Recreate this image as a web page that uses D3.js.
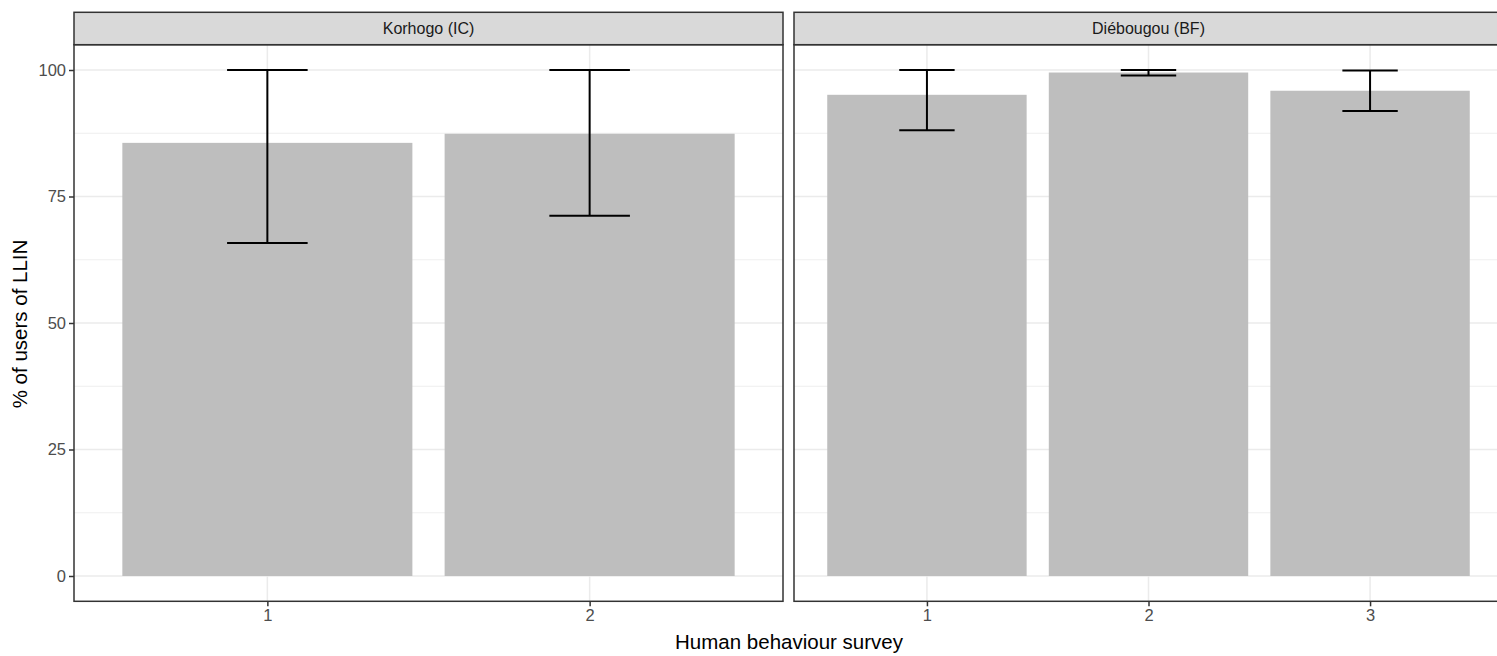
<!DOCTYPE html>
<html>
<head>
<meta charset="utf-8">
<script src="https://cdn.jsdelivr.net/npm/d3@7"></script>
<style>
  body { margin: 0; background: #fff; }
  svg { display: block; font-family: "Liberation Sans", Arial, sans-serif; }
</style>
</head>
<body>
<svg id="chart" width="1497" height="656"></svg>
<script>
// ---- data ----
const panelNames = ["Korhogo (IC)", "Diébougou (BF)"];
const korhogoSurveys = ["1", "2"];
const korhogoValues = [85.6, 87.4];
const korhogoLower = [65.8, 71.2];
const korhogoUpper = [100, 100];
const diebougouSurveys = ["1", "2", "3"];
const diebougouValues = [95.1, 99.5, 95.9];
const diebougouLower = [88.1, 98.9, 91.9];
const diebougouUpper = [100, 100, 99.9];
const yTicks = [0, 25, 50, 75, 100];
const yMinorTicks = [12.5, 37.5, 62.5, 87.5];
const xTitle = "Human behaviour survey";
const yTitle = "% of users of LLIN";

const panelsData = [
  { name: panelNames[0], surveys: korhogoSurveys, values: korhogoValues, lower: korhogoLower, upper: korhogoUpper },
  { name: panelNames[1], surveys: diebougouSurveys, values: diebougouValues, lower: diebougouLower, upper: diebougouUpper }
];

// ---- layout ----
const svg = d3.select("#chart");
const panelTop = 44.7, panelBottom = 601.3;
const stripTop = 12.3;
const panelW = 709;
const panelLefts = [74, 794];
const font = "Liberation Sans, Arial, sans-serif";

const y = d3.scaleLinear().domain([-5, 105]).range([panelBottom, panelTop]);

const border = "#333333", grid = "#EBEBEB";

panelsData.forEach((p, i) => {
  const x0 = panelLefts[i];
  const x = d3.scalePoint().domain(p.surveys).range([x0, x0 + panelW]).padding(0.6);
  const step = x.step();
  const g = svg.append("g");

  g.append("rect").attr("x", x0).attr("y", panelTop).attr("width", panelW)
    .attr("height", panelBottom - panelTop).attr("fill", "#fff");

  // minor grid
  g.selectAll(".ymin").data(yMinorTicks).join("line")
    .attr("x1", x0).attr("x2", x0 + panelW)
    .attr("y1", d => y(d)).attr("y2", d => y(d))
    .attr("stroke", grid).attr("stroke-width", 0.8);
  // major grid
  g.selectAll(".ymaj").data(yTicks).join("line")
    .attr("x1", x0).attr("x2", x0 + panelW)
    .attr("y1", d => y(d)).attr("y2", d => y(d))
    .attr("stroke", grid).attr("stroke-width", 1.5);
  g.selectAll(".xmaj").data(p.surveys).join("line")
    .attr("x1", d => x(d)).attr("x2", d => x(d))
    .attr("y1", panelTop).attr("y2", panelBottom)
    .attr("stroke", grid).attr("stroke-width", 1.5);

  // bars
  const bw = step * 0.9;
  g.selectAll(".bar").data(p.surveys).join("rect")
    .attr("x", d => x(d) - bw / 2)
    .attr("width", bw)
    .attr("y", (d, j) => y(p.values[j]))
    .attr("height", (d, j) => y(0) - y(p.values[j]))
    .attr("fill", "#BEBEBE");

  // error bars
  const ew = step * 0.25;
  const eb = g.selectAll(".eb").data(p.surveys).join("g");
  eb.append("line")
    .attr("x1", d => x(d)).attr("x2", d => x(d))
    .attr("y1", (d, j) => y(p.lower[j])).attr("y2", (d, j) => y(p.upper[j]));
  eb.append("line")
    .attr("x1", d => x(d) - ew / 2).attr("x2", d => x(d) + ew / 2)
    .attr("y1", (d, j) => y(p.lower[j])).attr("y2", (d, j) => y(p.lower[j]));
  eb.append("line")
    .attr("x1", d => x(d) - ew / 2).attr("x2", d => x(d) + ew / 2)
    .attr("y1", (d, j) => y(p.upper[j])).attr("y2", (d, j) => y(p.upper[j]));
  eb.selectAll("line").attr("stroke", "#000").attr("stroke-width", 2);

  // panel border
  g.append("rect").attr("x", x0).attr("y", panelTop).attr("width", panelW)
    .attr("height", panelBottom - panelTop).attr("fill", "none")
    .attr("stroke", border).attr("stroke-width", 1.5);

  // strip
  g.append("rect").attr("x", x0).attr("y", stripTop).attr("width", panelW)
    .attr("height", panelTop - stripTop).attr("fill", "#D9D9D9")
    .attr("stroke", border).attr("stroke-width", 1.5);
  g.append("text").attr("x", x0 + panelW / 2).attr("y", (stripTop + panelTop) / 2)
    .attr("text-anchor", "middle").attr("dominant-baseline", "central")
    .attr("font-size", 16).attr("fill", "#1A1A1A").text(p.name);

  // x axis
  const xa = svg.append("g").attr("transform", `translate(0,${panelBottom})`)
    .call(d3.axisBottom(x).tickSize(5).tickPadding(3));
  xa.select(".domain").remove();
  xa.selectAll(".tick line").attr("stroke", border).attr("stroke-width", 1.5);
  xa.selectAll(".tick text").attr("fill", "#4D4D4D").attr("font-size", 16.5)
    .attr("font-family", font);

  // y axis only on the first panel
  if (i === 0) {
    const ya = svg.append("g").attr("transform", `translate(${x0},0)`)
      .call(d3.axisLeft(y).tickValues(yTicks).tickSize(5).tickPadding(3));
    ya.select(".domain").remove();
    ya.selectAll(".tick line").attr("stroke", border).attr("stroke-width", 1.5);
    ya.selectAll(".tick text").attr("fill", "#4D4D4D").attr("font-size", 16.5)
      .attr("font-family", font);
  }
});

// axis titles
svg.append("text").attr("x", 789).attr("y", 649).attr("text-anchor", "middle")
  .attr("font-size", 20.5).attr("fill", "#000").text(xTitle);
svg.append("text").attr("transform", "translate(27,324) rotate(-90)")
  .attr("text-anchor", "middle").attr("font-size", 20.5).attr("fill", "#000").text(yTitle);
</script>
</body>
</html>
